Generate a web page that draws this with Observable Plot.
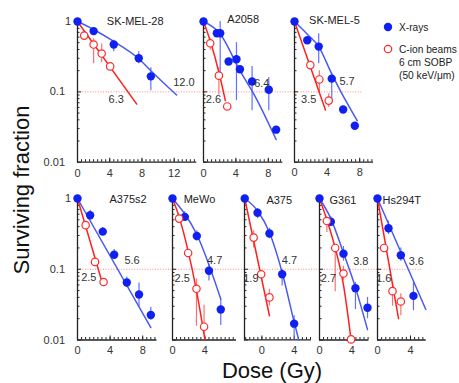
<!DOCTYPE html>
<html><head><meta charset="utf-8">
<script src="https://cdn.jsdelivr.net/npm/d3@7"></script>
<script src="https://cdn.jsdelivr.net/npm/@observablehq/plot@0.6"></script>
<style>
body{margin:0;background:#fff;}
#chart{position:relative;width:459px;height:383px;overflow:hidden;font-family:"Liberation Sans",Arial,sans-serif;color:#222;}
#chart svg.plotpanel{position:absolute;}
.lab{position:absolute;white-space:nowrap;line-height:1;}
</style></head><body><div id="chart"></div>
<script>
// ---- data ----
const cellLines = ["SK-MEL-28","A2058","SK-MEL-5","A375s2","MeWo","A375","G361","Hs294T"];
const d10Xray   = ["12.0","6.4","5.7","5.6","4.7","4.7","3.8","3.6"];
const d10Carbon = ["6.3","2.6","3.5","2.5","2.5","1.9","2.7","1.6"];
const xTickLabels = [[0,4,8,12],[0,4,8],[0,4,8],[0,4,8],[0,4],[0,4],[0,4],[0,4]];
const yTickLabels = [1, 0.1, 0.01];
const survivalLevel = 0.1;

// [dose, surviving fraction]; errors [dose, low, high]
const skmel28Xray = [[0,1],[2.0,0.73],[4.5,0.47],[7.6,0.30],[9.1,0.166]];
const skmel28XrayErr = [[4.5,0.37,0.54],[7.6,0.25,0.37],[9.1,0.104,0.22]];
const skmel28Carbon = [[0.83,0.63],[2.0,0.47],[3.0,0.35],[4.05,0.23]];
const skmel28CarbonErr = [[2.0,0.25,0.57],[3.0,0.26,0.48]];
const skmel28XrayFit = [[0,1],[2,0.77],[4.5,0.52],[7.6,0.295],[9.1,0.2],[12.3,0.09]];
const skmel28CarbonFit = [[0,1],[7.35,0.067]];

const a2058Xray = [[0,1],[1.65,0.68],[2.06,0.68],[3.1,0.27],[4.07,0.29],[4.5,0.21],[6.0,0.14],[8.06,0.107],[8.97,0.029]];
const a2058XrayErr = [[2.06,0.16,1.0],[4.07,0.075,0.5],[6.0,0.054,0.23],[8.06,0.054,0.16]];
const a2058Carbon = [[0.83,0.49],[1.9,0.17],[2.93,0.062]];
const a2058CarbonErr = [[0.83,0.39,0.57],[1.9,0.09,0.22]];
const a2058XrayFit = [[0,1],[2,0.68],[4.5,0.2],[6.4,0.085],[8.97,0.021]];
const a2058CarbonFit = [[0,1],[0.9,0.5],[1.9,0.19],[2.7,0.075]];

const skmel5Xray = [[0,1],[1.57,0.54],[2.97,0.44],[4.57,0.154],[5.97,0.056],[7.4,0.033]];
const skmel5XrayErr = [[2.97,0.25,0.67],[4.57,0.07,0.18]];
const skmel5Carbon = [[1.94,0.24],[3.05,0.15],[4.2,0.075]];
const skmel5CarbonErr = [[3.05,0.094,0.2],[4.2,0.06,0.094]];
const skmel5XrayFit = [[0,1],[1.57,0.66],[2.97,0.44],[4.57,0.18],[5.7,0.1],[7.7,0.039]];
const skmel5CarbonFit = [[0,1],[3.8,0.055]];

const a375s2Xray = [[0,1],[1.55,0.58],[3.1,0.34],[4.5,0.16],[6.05,0.065],[7.55,0.044],[9.0,0.0225]];
const a375s2XrayErr = [[1.55,0.5,0.68],[3.1,0.3,0.39],[4.5,0.14,0.19],[6.05,0.055,0.078],[7.55,0.029,0.064],[9.0,0.019,0.029]];
const a375s2Carbon = [[1.0,0.42],[2.15,0.127],[3.2,0.066]];
const a375s2CarbonErr = [];
const a375s2XrayFit = [[0,1],[9,0.015]];
const a375s2CarbonFit = [[0,1],[3.05,0.064]];

const mewoXray = [[0,1],[1.52,0.55],[3.0,0.295],[4.5,0.095],[5.96,0.027]];
const mewoXrayErr = [[1.52,0.48,0.65],[3.0,0.25,0.35],[4.5,0.068,0.118],[5.96,0.016,0.038]];
const mewoCarbon = [[0.82,0.52],[1.93,0.17],[2.96,0.053],[3.9,0.0154]];
const mewoCarbonErr = [[2.96,0.0156,0.073],[3.9,0.012,0.031]];
const mewoXrayFit = [[0,1],[3,0.31],[5.96,0.038]];
const mewoCarbonFit = [[0,1],[0.82,0.55],[1.93,0.18],[2.96,0.05],[4.0,0.0102]];

const a375Xray = [[-2.12,1],[-0.54,0.63],[0.93,0.32],[2.5,0.085],[3.98,0.017]];
const a375XrayErr = [[-0.54,0.52,0.72],[0.93,0.27,0.38],[2.5,0.058,0.1],[3.98,0.01,0.022]];
const a375Carbon = [[-1.02,0.28],[-0.09,0.085],[0.93,0.04]];
const a375CarbonErr = [[-1.02,0.2,0.35],[0.93,0.03,0.052]];
const a375XrayFit = [[-2.12,1],[-0.54,0.67],[0.93,0.33],[2.5,0.09],[3.98,0.018],[4.55,0.01]];
const a375CarbonFit = [[-2.12,1],[0.93,0.022]];

const g361Xray = [[0,1],[1.4,0.47],[2.96,0.166],[4.44,0.054],[5.93,0.0285]];
const g361XrayErr = [[1.4,0.4,0.55],[2.96,0.13,0.21],[4.44,0.027,0.065],[5.93,0.02,0.04]];
const g361Carbon = [[0.91,0.48],[1.94,0.2],[2.96,0.087],[3.9,0.0102]];
const g361CarbonErr = [[0.91,0.33,0.53],[1.94,0.048,0.21],[2.96,0.07,0.11]];
const g361XrayFit = [[0,1],[1.4,0.52],[2.96,0.17],[4.44,0.055],[5.93,0.014]];
const g361CarbonFit = [[0,1],[0.91,0.5],[1.94,0.2],[2.96,0.06],[3.9,0.01]];

const hs294tXray = [[0,1],[1.33,0.38],[2.83,0.158],[4.36,0.042]];
const hs294tXrayErr = [[1.33,0.31,0.48],[2.83,0.13,0.2],[4.36,0.026,0.065]];
const hs294tCarbon = [[0.8,0.2],[1.82,0.049],[2.83,0.035]];
const hs294tCarbonErr = [[1.82,0.03,0.065],[2.83,0.022,0.045]];
const hs294tXrayFit = [[0,1],[5.86,0.027]];
const hs294tCarbonFit = [[0,1],[2.55,0.02]];

const xrayPts = [skmel28Xray,a2058Xray,skmel5Xray,a375s2Xray,mewoXray,a375Xray,g361Xray,hs294tXray];
const xrayErr = [skmel28XrayErr,a2058XrayErr,skmel5XrayErr,a375s2XrayErr,mewoXrayErr,a375XrayErr,g361XrayErr,hs294tXrayErr];
const carbonPts = [skmel28Carbon,a2058Carbon,skmel5Carbon,a375s2Carbon,mewoCarbon,a375Carbon,g361Carbon,hs294tCarbon];
const carbonErr = [skmel28CarbonErr,a2058CarbonErr,skmel5CarbonErr,a375s2CarbonErr,mewoCarbonErr,a375CarbonErr,g361CarbonErr,hs294tCarbonErr];
const xrayFit = [skmel28XrayFit,a2058XrayFit,skmel5XrayFit,a375s2XrayFit,mewoXrayFit,a375XrayFit,g361XrayFit,hs294tXrayFit];
const carbonFit = [skmel28CarbonFit,a2058CarbonFit,skmel5CarbonFit,a375s2CarbonFit,mewoCarbonFit,a375CarbonFit,g361CarbonFit,hs294tCarbonFit];

// ---- layout (pixels / label anchors) ----
const rows = [{y1:21, y001:161.7, ruleEnd:35.45}, {y1:197.5, y001:339, ruleEnd:42.3}];
const layout = [
 {row:0, x0:77.3,  k:8.06, domain:[0,14.8],   tx:7.16, tdy:-0.5, lx:[13.2,0.136], lc:[4.8,0.077]},
 {row:0, x0:202.7, k:8.1,  domain:[0,9.8],    tx:4.9,  tdy:-2,   lx:[7.2,0.131],  lc:[1.23,0.078]},
 {row:0, x0:294.2, k:8.15, domain:[0,9.7],    tx:4.9,  tdy:-1.5, lx:[6.45,0.14],  lc:[1.75,0.078]},
 {row:1, x0:77,    k:8.15, domain:[0,9.75],   tx:6.2,  tdy:1,    lx:[6.7,0.135],  lc:[1.39,0.076]},
 {row:1, x0:172,   k:8.1,  domain:[0,7.9],    tx:3.33, tdy:0.5,  lx:[5.2,0.131],  lc:[1.2,0.074]},
 {row:1, x0:244.3, k:8.1,  domain:[-2.15,6.1],tx:2.14, tdy:2,    lx:[3.4,0.131],  lc:[-1.36,0.074]},
 {row:1, x0:318.5, k:8.1,  domain:[0,6.1],    tx:2.9,  tdy:2,    lx:[5.1,0.128],  lc:[1.1,0.074]},
 {row:1, x0:377,   k:8.25, domain:[0,5.9],    tx:2.95, tdy:2,    lx:[4.7,0.127],  lc:[0.77,0.074]}
];

const blue = "#1020f0", blueLine = "#4a5af0", blueErr = "#6070ff";
const red = "#ff2a2a", redLine = "#ff2020", redErr = "#ff7070";
const axisColor = "#222", textColor = "#333";
const font = "Liberation Sans, Arial, sans-serif";

const chart = document.getElementById("chart");
const minorY = [2,3,4,5,6,7,8,9].flatMap(m => [m*0.01, m*0.1]);

layout.forEach((L, i) => {
  const R = rows[L.row];
  const first = (i === 0 || i === 3);
  const mL = first ? 40 : 6, mR = 14, mT = 14, mB = 26;
  const fw = (L.domain[1] - L.domain[0]) * L.k;
  const fh = R.y001 - R.y1;
  const minorX = d3.range(Math.ceil(L.domain[0]*2)/2, L.domain[1] + 1e-9, 0.5);
  const marks = [];
  if (first) marks.push(Plot.ruleY([survivalLevel], {x1: L.domain[0], x2: R.ruleEnd, stroke: "#ff7a7a", strokeWidth: 0.9, strokeDasharray: "1,1.6"}));
  marks.push(
    Plot.axisY({ticks: minorY, anchor: "left", tickSize: 2.5, dx: 2.5, fill: "none", stroke: axisColor, label: null}),
    Plot.axisY({ticks: yTickLabels, anchor: "left", tickSize: 4, dx: 4, fill: "none", stroke: axisColor, label: null}),
    Plot.axisX({ticks: minorX, anchor: "bottom", tickSize: 2.5, dy: -2.5, fill: "none", stroke: axisColor, label: null}),
    Plot.axisX({ticks: xTickLabels[i], anchor: "bottom", tickSize: 4, dy: -4, fill: "none", stroke: axisColor, label: null}),
    Plot.axisX({ticks: xTickLabels[i], anchor: "bottom", tickSize: 0, tickPadding: 6.5, fill: textColor, fontSize: 11, label: null, tickFormat: d => String(d)})
  );
  if (first) {
    marks.push(
      Plot.axisY({ticks: yTickLabels.filter(v => v < 1), anchor: "left", tickSize: 0, tickPadding: 12.5, fill: textColor, fontSize: 11, label: null, tickFormat: d => String(d)}),
      Plot.axisY({ticks: yTickLabels.filter(v => v === 1), anchor: "left", tickSize: 0, tickPadding: 6.5, fill: textColor, fontSize: 11, label: null, tickFormat: d => String(d)})
    );
  }
  marks.push(
    Plot.ruleX([L.domain[0]], {y1: 0.01, y2: 1, stroke: axisColor, strokeWidth: 1.3}),
    Plot.ruleY([0.01], {x1: L.domain[0], x2: L.domain[1], stroke: axisColor, strokeWidth: 1.3}),
    Plot.ruleX(xrayErr[i], {x: d => d[0], y1: d => d[1], y2: d => d[2], stroke: blueErr, strokeWidth: 1.2}),
    Plot.ruleX(carbonErr[i], {x: d => d[0], y1: d => d[1], y2: d => d[2], stroke: redErr, strokeWidth: 1.2}),
    Plot.line(xrayFit[i], {x: d => d[0], y: d => d[1], stroke: blueLine, strokeWidth: 1.5, curve: "monotone-x"}),
    Plot.line(carbonFit[i], {x: d => d[0], y: d => d[1], stroke: redLine, strokeWidth: 1.5, curve: "monotone-x"}),
    Plot.dot(xrayPts[i], {x: d => d[0], y: d => d[1], r: 4.2, fill: blue, stroke: "none"}),
    Plot.dot(carbonPts[i], {x: d => d[0], y: d => d[1], r: 3.7, fill: "white", stroke: red, strokeWidth: 1.2}),
    Plot.text([cellLines[i]], {x: L.tx, y: 1, dy: L.tdy, text: d => d, fontSize: 11, fill: "#222"}),
    Plot.text([d10Xray[i]], {x: L.lx[0], y: L.lx[1], text: d => d, fontSize: 11, fill: textColor}),
    Plot.text([d10Carbon[i]], {x: L.lc[0], y: L.lc[1], text: d => d, fontSize: 11, fill: textColor})
  );
  const svg = Plot.plot({
    width: mL + fw + mR, height: mT + fh + mB,
    marginLeft: mL, marginRight: mR, marginTop: mT, marginBottom: mB,
    x: {domain: L.domain},
    y: {type: "log", domain: [0.01, 1]},
    style: {background: "transparent", overflow: "visible", fontFamily: font, fontSize: "11px"},
    marks
  });
  svg.classList.add("plotpanel");
  svg.style.left = (L.x0 - mL) + "px";
  svg.style.top = (R.y1 - mT) + "px";
  chart.appendChild(svg);
});

// ---- axis titles ----
const yt = document.createElement("div");
yt.className = "lab";
yt.textContent = "Surviving fraction";
yt.style.cssText += "left:22px;top:190px;font-size:22px;transform:translate(-50%,-50%) rotate(-90deg);color:#111;";
chart.appendChild(yt);
const xt = document.createElement("div");
xt.className = "lab";
xt.textContent = "Dose (Gy)";
xt.style.cssText += "left:272px;top:371px;font-size:22px;transform:translate(-50%,-50%);color:#111;";
chart.appendChild(xt);

// ---- legend ----
const leg = d3.select(chart).append("svg")
  .attr("width", 459).attr("height", 100)
  .style("position", "absolute").style("left", "0px").style("top", "0px").style("overflow", "visible");
leg.append("circle").attr("cx", 388).attr("cy", 27).attr("r", 4.2).attr("fill", blue);
leg.append("circle").attr("cx", 388).attr("cy", 49).attr("r", 3.7).attr("fill", "white").attr("stroke", red).attr("stroke-width", 1.2);
const legText = [["X-rays", 27], ["C-ion beams", 49], ["6 cm SOBP", 62], ["(50 keV/μm)", 75]];
leg.selectAll("text").data(legText).join("text")
  .attr("x", 399).attr("y", d => d[1]).attr("dy", "0.35em")
  .attr("font-family", font).attr("font-size", 10.2).attr("fill", "#222")
  .text(d => d[0]);
</script>
</body></html>
